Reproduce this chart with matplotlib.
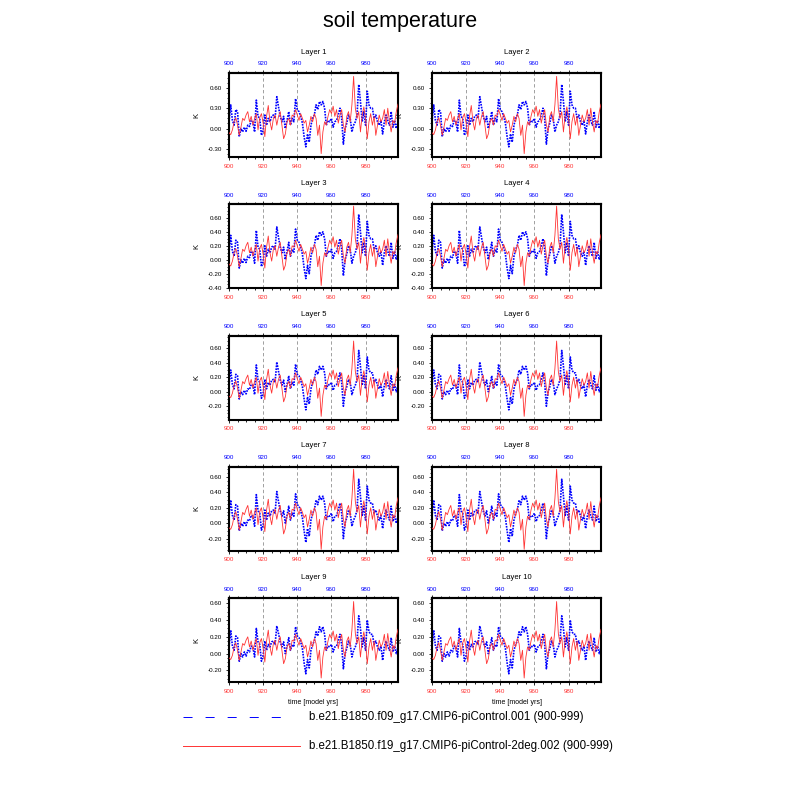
import matplotlib
matplotlib.use("Agg")
import matplotlib.pyplot as plt
from matplotlib.lines import Line2D
from matplotlib.ticker import MultipleLocator, AutoMinorLocator, FormatStrFormatter

plt.rcParams['font.family'] = ['Liberation Sans', 'DejaVu Sans']

TITLE = "soil temperature"
YEARS = list(range(900, 1000))
XTICKS = [900, 920, 940, 960, 980]
LAYER_NAMES = [f"Layer {i}" for i in range(1, 11)]
LEGEND_BLUE = "b.e21.B1850.f09_g17.CMIP6-piControl.001 (900-999)"
LEGEND_RED = "b.e21.B1850.f19_g17.CMIP6-piControl-2deg.002 (900-999)"

# red series (f19 2deg run) - upper layers
RED_A = [-0.06, -0.09, -0.02, 0.10, 0.16, 0.05, -0.10, 0.02, 0.15, 0.12,
         0.20, 0.25, 0.10, 0.18, 0.05, 0.15, 0.22, -0.02, 0.16, 0.22,
         0.08, -0.12, 0.18, 0.34, 0.10, -0.02, 0.15, 0.20, 0.05, 0.18,
         0.25, 0.05, -0.15, -0.08, 0.10, 0.15, 0.05, 0.20, 0.18, 0.28,
         0.20, 0.12, 0.22, 0.15, 0.08, 0.12, -0.05, 0.05, 0.18, 0.10,
         0.22, 0.15, -0.10, 0.05, -0.37, -0.05, 0.10, 0.05, 0.18, 0.28,
         0.22, 0.33, 0.18, 0.28, 0.08, 0.20, 0.28, 0.05, -0.05, 0.18,
         0.25, 0.10, 0.35, 0.77, 0.30, 0.15, 0.25, -0.05, 0.20, 0.32,
         0.15, -0.15, 0.10, 0.22, 0.05, 0.18, -0.10, 0.05, 0.20, 0.10,
         0.15, 0.28, 0.05, 0.30, 0.10, -0.05, 0.12, 0.08, 0.25, 0.36]
# red series - middle layers
RED_B = [-0.06, -0.08, -0.02, 0.09, 0.15, 0.05, -0.09, 0.02, 0.14, 0.11,
         0.18, 0.23, 0.09, 0.17, 0.05, 0.14, 0.20, -0.02, 0.15, 0.20,
         0.07, -0.11, 0.17, 0.31, 0.09, -0.02, 0.14, 0.18, 0.05, 0.17,
         0.23, 0.05, -0.14, -0.07, 0.09, 0.14, 0.05, 0.18, 0.17, 0.26,
         0.18, 0.11, 0.20, 0.14, 0.07, 0.11, -0.05, 0.05, 0.17, 0.09,
         0.20, 0.14, -0.09, 0.05, -0.34, -0.05, 0.09, 0.05, 0.17, 0.26,
         0.20, 0.30, 0.17, 0.26, 0.07, 0.18, 0.26, 0.05, -0.05, 0.17,
         0.23, 0.09, 0.32, 0.70, 0.28, 0.14, 0.23, -0.05, 0.18, 0.29,
         0.14, -0.14, 0.09, 0.20, 0.05, 0.17, -0.09, 0.05, 0.18, 0.09,
         0.14, 0.26, 0.05, 0.28, 0.09, -0.05, 0.11, 0.07, 0.23, 0.33]
# red series - deep layers
RED_C = [-0.05, -0.07, -0.02, 0.08, 0.13, 0.04, -0.08, 0.02, 0.12, 0.10,
         0.16, 0.20, 0.08, 0.15, 0.04, 0.12, 0.18, -0.02, 0.13, 0.18,
         0.06, -0.10, 0.15, 0.28, 0.08, -0.02, 0.12, 0.16, 0.04, 0.15,
         0.20, 0.04, -0.12, -0.06, 0.08, 0.12, 0.04, 0.16, 0.15, 0.23,
         0.16, 0.10, 0.18, 0.12, 0.06, 0.10, -0.04, 0.04, 0.15, 0.08,
         0.18, 0.12, -0.08, 0.04, -0.29, -0.04, 0.08, 0.04, 0.15, 0.23,
         0.18, 0.27, 0.15, 0.23, 0.06, 0.16, 0.23, 0.04, -0.04, 0.15,
         0.20, 0.08, 0.28, 0.62, 0.24, 0.12, 0.20, -0.04, 0.16, 0.26,
         0.12, -0.12, 0.08, 0.18, 0.04, 0.15, -0.08, 0.04, 0.16, 0.08,
         0.12, 0.23, 0.04, 0.24, 0.08, -0.04, 0.10, 0.06, 0.20, 0.29]

# blue series (f09 run) - upper layers
BLUE_A = [0.10, 0.35, 0.12, 0.05, 0.28, 0.25, -0.12, 0.00, -0.05, 0.02,
          -0.04, 0.05, 0.03, 0.12, 0.10, -0.05, 0.42, 0.18, 0.15, -0.10,
          -0.02, 0.20, 0.05, 0.15, 0.10, 0.18, 0.20, 0.15, 0.47, 0.32,
          0.18, 0.10, 0.18, 0.00, 0.12, 0.25, 0.05, 0.15, 0.10, 0.44,
          0.28, 0.25, 0.18, 0.08, -0.12, -0.27, -0.08, -0.20, 0.05, 0.15,
          0.20, 0.35, 0.28, 0.40, 0.35, 0.40, 0.30, 0.05, 0.12, 0.10,
          0.15, 0.02, 0.10, 0.12, 0.20, 0.30, 0.15, -0.23, 0.00, 0.08,
          0.20, 0.15, -0.05, 0.05, 0.10, 0.20, 0.65, 0.40, 0.10, 0.25,
          0.05, 0.55, 0.35, 0.30, 0.30, 0.15, 0.20, 0.10, 0.05, 0.12,
          -0.08, 0.10, 0.20, 0.12, 0.05, 0.25, 0.02, 0.12, 0.00, 0.10]
# blue series - middle layers
BLUE_B = [0.09, 0.30, 0.10, 0.04, 0.24, 0.22, -0.10, 0.00, -0.04, 0.02,
          -0.03, 0.04, 0.03, 0.10, 0.09, -0.04, 0.37, 0.16, 0.13, -0.09,
          -0.02, 0.17, 0.04, 0.13, 0.09, 0.16, 0.17, 0.13, 0.41, 0.28,
          0.16, 0.09, 0.16, 0.00, 0.10, 0.22, 0.04, 0.13, 0.09, 0.38,
          0.24, 0.22, 0.16, 0.07, -0.10, -0.25, -0.07, -0.17, 0.04, 0.13,
          0.17, 0.30, 0.24, 0.35, 0.30, 0.35, 0.26, 0.04, 0.10, 0.09,
          0.13, 0.02, 0.09, 0.10, 0.17, 0.26, 0.13, -0.20, 0.00, 0.07,
          0.17, 0.13, -0.04, 0.04, 0.09, 0.17, 0.57, 0.35, 0.09, 0.22,
          0.04, 0.48, 0.30, 0.26, 0.26, 0.13, 0.17, 0.09, 0.04, 0.10,
          -0.07, 0.09, 0.17, 0.10, 0.04, 0.22, 0.02, 0.10, 0.00, 0.09]
# blue series - deep layers
BLUE_C = [0.08, 0.28, 0.09, 0.04, 0.21, 0.19, -0.09, 0.00, -0.04, 0.02,
          -0.03, 0.04, 0.02, 0.09, 0.08, -0.04, 0.30, 0.14, 0.11, -0.09,
          -0.02, 0.15, 0.04, 0.11, 0.08, 0.14, 0.15, 0.11, 0.33, 0.24,
          0.14, 0.08, 0.14, 0.00, 0.09, 0.19, 0.04, 0.11, 0.08, 0.32,
          0.21, 0.19, 0.14, 0.06, -0.11, -0.24, -0.07, -0.17, 0.04, 0.11,
          0.15, 0.26, 0.21, 0.32, 0.26, 0.32, 0.23, 0.04, 0.09, 0.08,
          0.11, 0.02, 0.08, 0.09, 0.15, 0.23, 0.11, -0.18, 0.00, 0.06,
          0.15, 0.11, -0.04, 0.04, 0.08, 0.15, 0.45, 0.30, 0.08, 0.19,
          0.04, 0.40, 0.26, 0.23, 0.23, 0.11, 0.15, 0.08, 0.04, 0.09,
          -0.08, 0.08, 0.15, 0.09, 0.04, 0.19, 0.02, 0.09, 0.00, 0.08]

LAYER_RED = [RED_A, RED_A, RED_A, RED_A, RED_B, RED_B, RED_B, RED_B, RED_C, RED_C]
LAYER_BLUE = [BLUE_A, BLUE_A, BLUE_A, BLUE_A, BLUE_B, BLUE_B, BLUE_B, BLUE_B, BLUE_C, BLUE_C]

# per-row axis ranges and tick steps
ROW_YLIM = [(-0.42, 0.82), (-0.41, 0.795), (-0.385, 0.775), (-0.36, 0.73), (-0.34, 0.66)]
ROW_YSTEP = [0.3, 0.2, 0.2, 0.2, 0.2]

PX = 1 / 800
COL_LEFT = [229, 432]
ROW_TOP = [73, 204.3, 335.6, 466.9, 598.2]
W, H = 169, 84

fig = plt.figure(figsize=(8, 8), dpi=100)
fig.text(0.5, 1 - 22 * PX, TITLE, ha='center', va='center', fontsize=15.5)

TL = 2.2  # major tick length pt
RED_COL = '#ff3333'
for i in range(10):
    r, c = divmod(i, 2)
    ax = fig.add_axes([COL_LEFT[c] * PX, 1 - (ROW_TOP[r] + H) * PX, W * PX, H * PX])
    for xv in XTICKS[1:]:
        ax.axvline(xv, color='#909090', lw=0.6, ls=(0, (4, 3)), zorder=0)
    ax.plot(YEARS, LAYER_BLUE[i], color='blue', lw=1.2, ls=(0, (1, 0.7)), zorder=2)
    ax.plot(YEARS, LAYER_RED[i], color=RED_COL, lw=0.6, zorder=3)
    ax.set_xlim(900, 999)
    ax.set_ylim(*ROW_YLIM[r])
    ax.set_xticks(XTICKS)
    ax.set_xticklabels([str(x) for x in XTICKS])
    ax.set_xticks(list(range(900, 1000, 5)), minor=True)
    ax.yaxis.set_major_locator(MultipleLocator(ROW_YSTEP[r]))
    ax.yaxis.set_minor_locator(AutoMinorLocator(4))
    ax.yaxis.set_major_formatter(FormatStrFormatter('%.2f'))
    ax.tick_params(which='both', direction='out', top=False, right=False, width=0.6)
    ax.tick_params(which='major', length=TL, labelsize=4.5, pad=2.5)
    ax.tick_params(which='minor', length=TL * 0.5)
    ax.tick_params(axis='x', labelcolor=RED_COL)
    for s in ax.spines.values():
        s.set_linewidth(1.5)
    sec = ax.secondary_xaxis('top')
    sec.set_xticks(XTICKS)
    sec.set_xticklabels([str(x) for x in XTICKS])
    sec.set_xticks(list(range(900, 1000, 5)), minor=True)
    sec.tick_params(which='both', direction='out', width=0.6)
    sec.tick_params(which='major', length=TL, labelsize=4.5, pad=2.5, labelcolor='blue')
    sec.tick_params(which='minor', length=TL * 0.5)
    sec.spines['top'].set_linewidth(1.5)
    ax.set_ylabel('K', fontsize=5.5)
    ax.yaxis.set_label_coords(-29 / W, 0.5)
    ax.text(0.5, 1 + 21 / H, LAYER_NAMES[i], transform=ax.transAxes,
            ha='center', va='center', fontsize=5.5)
    if r == 4:
        ax.text(0.5, -20 / H, 'time [model yrs]', transform=ax.transAxes,
                ha='center', va='center', fontsize=5)

fig.add_artist(Line2D([183 * PX, 290 * PX], [1 - 717 * PX] * 2, transform=fig.transFigure,
                      color='blue', lw=0.7, ls=(0, (9.3, 13.4))))
fig.text(309 * PX, 1 - 717 * PX, LEGEND_BLUE, ha='left', va='center', fontsize=8.3)
fig.add_artist(Line2D([183 * PX, 300 * PX], [1 - 746 * PX] * 2, transform=fig.transFigure,
                      color=RED_COL, lw=0.7))
fig.text(309 * PX, 1 - 746 * PX, LEGEND_RED, ha='left', va='center', fontsize=8.3)

fig.savefig('out.png', dpi=100)
